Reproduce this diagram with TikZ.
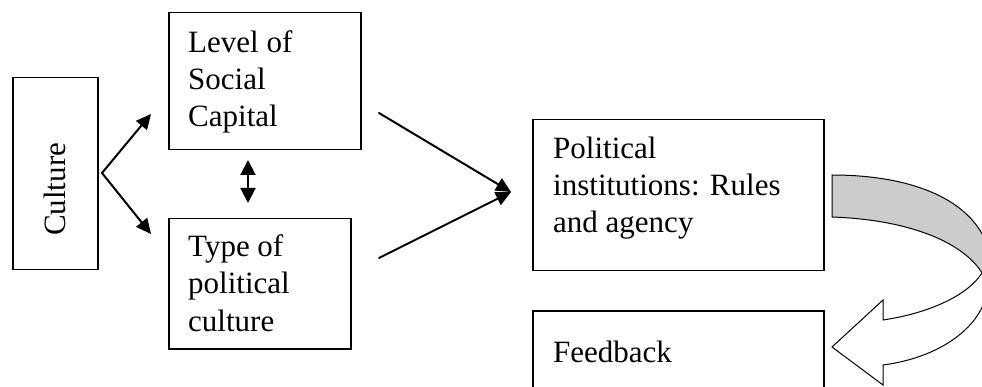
\documentclass[tikz,border=0pt]{standalone}
\usepackage{fontspec}
\setmainfont{Liberation Serif}
\usetikzlibrary{arrows.meta}
\begin{document}
\begin{tikzpicture}[x=1pt,y=-1pt,
  box/.style={draw, line width=1.5pt, rectangle, inner sep=0pt, anchor=north west},
  txt/.style={anchor=base west, inner sep=0pt, font=\fontsize{31}{37}\selectfont, align=left},
  conn/.style={line width=2pt, -{Triangle[length=15pt,width=14pt]}},
  dconn/.style={line width=2pt, {Triangle[length=15pt,width=15pt]}-{Triangle[length=15pt,width=15pt]}}]
\clip (0,0) rectangle (982,387);
\fill[white] (0,0) rectangle (982,387);
% boxes
\node[box, minimum width=85pt, minimum height=192pt] (culture) at (12,77) {};
\node[box, minimum width=192pt, minimum height=137pt] (level) at (168,12) {};
\node[box, minimum width=182pt, minimum height=130pt] (type) at (168,218) {};
\node[box, minimum width=291pt, minimum height=151pt] (polit) at (532,119) {};
\node[box, minimum width=291pt, minimum height=120pt] (feed) at (532,310) {};
% texts
\node[txt, rotate=90] (tculture) at (65,236) {Culture};
\node[txt] (tlevel) at (188,53) {Level of};
\node[txt] (tsocial) at (188,90) {Social};
\node[txt] (tcapital) at (188,127) {Capital};
\node[txt] (ttype) at (188,257) {Type of};
\node[txt] (tpolitical) at (188,294) {political};
\node[txt] (tculture2) at (188,331) {culture};
\node[txt] (tpol1) at (553,159) {Political};
\node[txt] (tpol2) at (553,196) {institutions: Rules};
\node[txt] (tpol3) at (553,233) {and agency};
\node[txt] (tfeed) at (553,362) {Feedback};
% connectors
\coordinate (apex) at (102,173);
\coordinate (uptip) at (151,114);
\coordinate (lowtip) at (151,234);
\coordinate (dtop) at (248,160);
\coordinate (dbot) at (248,203);
\coordinate (ustart) at (379,113);
\coordinate (lstart) at (379,258);
\coordinate (meet) at (511,192);
\draw[conn, line cap=round] (apex) -- (uptip);
\draw[conn, line cap=round] (apex) -- (lowtip);
\fill (apex) circle (1pt);
\draw[dconn] (dtop) -- (dbot);
\draw[conn, line cap=round] (ustart) -- (meet);
\draw[conn, line cap=round] (lstart) -- (meet);
% curved feedback arrow
\filldraw[fill=black!20, draw=black, line width=1pt]
  (832,175) .. controls (920,175) and (988,205) .. (992,268) -- (982,273)
  .. controls (965,245) and (915,220) .. (832,217) -- cycle;
\filldraw[fill=white, draw=black, line width=1pt, line join=miter]
  (982,273) .. controls (968,295) and (930,313) .. (883,320)
  -- (883,300) -- (832,347) -- (883,385) -- (883,365)
  .. controls (945,357) and (995,320) .. (988,270) -- cycle;
\end{tikzpicture}
\end{document}
